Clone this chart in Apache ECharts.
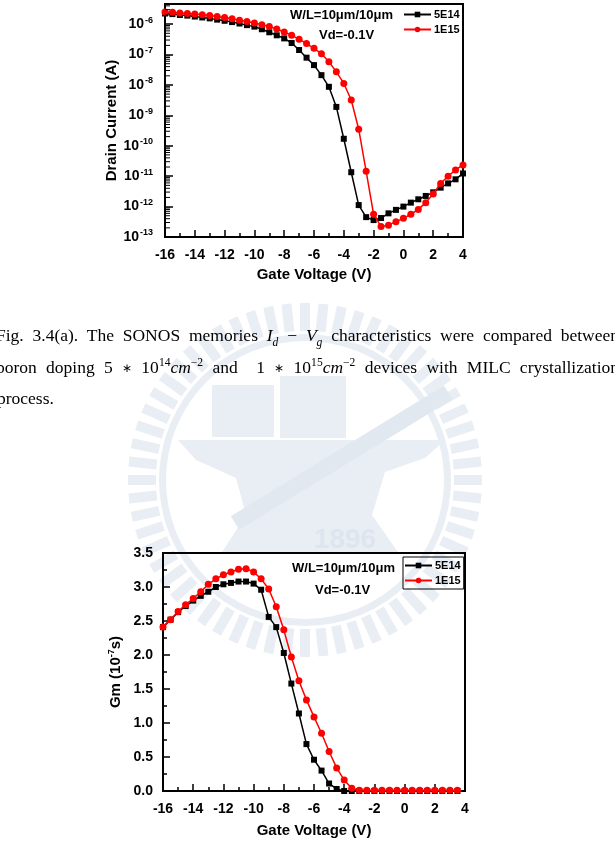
<!DOCTYPE html>
<html><head><meta charset="utf-8">
<script src="https://cdn.jsdelivr.net/npm/echarts@6/dist/echarts.min.js"></script>
<style>
html,body{margin:0;padding:0;background:#fff;overflow:hidden;}
#c{position:absolute;left:0;top:0;width:615px;height:866px;}
.cap{position:absolute;left:-4px;width:623px;font-family:"Liberation Serif","Times New Roman",serif;font-size:17.5px;line-height:20px;color:#000;}
.j{text-align:justify;text-align-last:justify;}
.m{font-style:italic;}
.ast{font-size:70%;position:relative;top:-1px;}
sub,sup{font-size:66%;line-height:0;}
</style></head><body>
<div id="c"></div>
<div class="cap j" style="top:325px">Fig. 3.4(a). The SONOS memories <span class="m">I<sub>d</sub></span> − <span class="m">V<sub>g</sub></span> characteristics were compared between</div>
<div class="cap j" style="top:357px">boron doping 5 <span class="ast">∗</span> 10<sup>14</sup><span class="m">cm</span><sup>−2</sup> and &nbsp;1 <span class="ast">∗</span> 10<sup>15</sup><span class="m">cm</span><sup>−2</sup> devices with MILC crystallization</div>
<div class="cap" style="top:388px;left:-3px">process.</div>
<script>
// ---------- data ----------
const vgIdVg = [-16,-15.5,-15,-14.5,-14,-13.5,-13,-12.5,-12,-11.5,-11,-10.5,-10,-9.5,-9,-8.5,-8,-7.5,-7,-6.5,-6,-5.5,-5,-4.5,-4,-3.5,-3,-2.5,-2,-1.5,-1,-0.5,0,0.5,1,1.5,2,2.5,3,3.5,4];
const id5E14 = [2.24e-6,2.14e-6,2.0e-6,1.91e-6,1.78e-6,1.66e-6,1.55e-6,1.41e-6,1.29e-6,1.17e-6,1.05e-6,9.3e-7,8.3e-7,6.8e-7,5.4e-7,4.3e-7,3.4e-7,2.4e-7,1.41e-7,7.9e-8,4.5e-8,2.1e-8,8.7e-9,1.9e-9,1.7e-10,1.35e-11,1.12e-12,4.5e-13,3.6e-13,4.2e-13,6.0e-13,7.8e-13,1.0e-12,1.35e-12,1.74e-12,2.24e-12,2.95e-12,4.2e-12,5.8e-12,7.9e-12,1.23e-11];
const id1E15 = [2.5e-6,2.45e-6,2.34e-6,2.24e-6,2.14e-6,2.04e-6,1.91e-6,1.78e-6,1.66e-6,1.51e-6,1.35e-6,1.23e-6,1.1e-6,9.5e-7,8.3e-7,6.9e-7,5.5e-7,4.3e-7,3.2e-7,2.3e-7,1.6e-7,1.07e-7,5.8e-8,2.7e-8,1.12e-8,3.2e-9,3.5e-10,1.45e-11,5.6e-13,2.2e-13,2.45e-13,3.2e-13,4.1e-13,5.6e-13,8.1e-13,1.35e-12,2.6e-12,5.8e-12,1.0e-11,1.6e-11,2.35e-11];

const vgGm = [-16,-15.5,-15,-14.5,-14,-13.5,-13,-12.5,-12,-11.5,-11,-10.5,-10,-9.5,-9,-8.5,-8,-7.5,-7,-6.5,-6,-5.5,-5,-4.5,-4,-3.5,-3,-2.5,-2,-1.5,-1,-0.5,0,0.5,1,1.5,2,2.5,3,3.5];
const gm5E14 = [2.41,2.52,2.63,2.72,2.80,2.87,2.93,3.00,3.04,3.06,3.08,3.08,3.05,2.96,2.56,2.41,2.03,1.58,1.14,0.69,0.46,0.30,0.11,0.03,0,0,0,0,0,0,0,0,0,0,0,0,0,0,0,0];
const gm1E15 = [2.41,2.52,2.64,2.74,2.83,2.93,3.04,3.12,3.18,3.22,3.26,3.27,3.22,3.12,2.97,2.71,2.37,1.97,1.62,1.34,1.09,0.85,0.58,0.34,0.16,0.04,0.01,0.01,0.01,0.01,0.01,0.01,0.01,0.01,0.01,0.01,0.01,0.01,0.01,0.01];

const seriesNames = ['5E14','1E15'];
const xTicks = {min:-16, max:4, step:2};
const gmTicks = {min:0, max:3.5, step:0.5};
const idRange = {min:1e-13, max:4.6e-6};
const noteWL = 'W/L=10\u03bcm/10\u03bcm';
const noteVd = 'Vd=-0.1V';

// ---------- chart ----------
const FF = '"Liberation Sans", Arial, sans-serif';
const chart = echarts.init(document.getElementById('c'), null, {renderer:'canvas'});

function pairs(xs, ys){ return xs.map((x,i)=>[x, ys[i]]); }

const axisLineStyle = {color:'#000', width:2};
const tickStyle = {color:'#000', width:1.5};
const G1 = {left:165, top:4, width:298, height:233};
const G2 = {left:163, top:553, width:302, height:238};

function xAxisCfg(gi, gap, margin){
  return {
    gridIndex: gi, type:'value', min:xTicks.min, max:xTicks.max, interval:xTicks.step,
    axisLine:{onZero:false, lineStyle:axisLineStyle}, splitLine:{show:false},
    axisTick:{inside:true, length:7, lineStyle:tickStyle},
    minorTick:{show:true, splitNumber:2, length:4, lineStyle:tickStyle},
    axisLabel:{color:'#000', fontWeight:'bold', fontSize:14, fontFamily:FF, margin:margin},
    name:'Gate Voltage (V)', nameLocation:'middle', nameGap:gap,
    nameTextStyle:{color:'#000', fontWeight:'bold', fontSize:15, fontFamily:FF}
  };
}

// log minor tick positions (2..9 x 10^n) for the left axis decoration
const logMinor = [];
for (let e=-13; e<=-6; e++) for (let k=2; k<=9; k++) { const v = k*Math.pow(10,e); if (v < idRange.max) logMinor.push(v); }

// watermark (decorative)
const wm = [];
const WC = '#e9eef5', cx = 305, cy = 480;
for (let i=0; i<60; i++) {
  wm.push({type:'rect', x:cx, y:cy, rotation: i*2*Math.PI/60, silent:true, z:-10,
    shape:{x:-5, y:-177, width:10, height:28}, style:{fill:WC}});
}
wm.push({type:'ring', silent:true, z:-10, shape:{cx:cx, cy:cy, r:146, r0:139}, style:{fill:WC}});
wm.push({type:'polygon', silent:true, z:-10, shape:{points:[[178,440],[445,440],[425,458],[385,472],[372,515],[398,552],[222,552],[246,515],[236,478],[196,460]]}, style:{fill:WC}});
wm.push({type:'rect', silent:true, z:-10, shape:{x:212, y:385, width:62, height:52}, style:{fill:WC}});
wm.push({type:'rect', silent:true, z:-10, shape:{x:280, y:376, width:66, height:62}, style:{fill:WC}});
wm.push({type:'rect', silent:true, z:-10, x:235, y:523, rotation:0.55, shape:{x:0, y:-8, width:250, height:16}, style:{fill:'#e2e8f0'}});
wm.push({type:'text', silent:true, z:-9, x:345, y:540, style:{text:'1896', font:'bold 28px "Liberation Sans"', fill:'#dfe5ee', align:'center', verticalAlign:'middle'}});

const notes = [
  {type:'text', left:290, top:9, z:100, style:{text:noteWL, font:'bold 13px '+FF, fill:'#000'}},
  {type:'text', left:319, top:29, z:100, style:{text:noteVd, font:'bold 13px '+FF, fill:'#000'}},
  {type:'text', left:292, top:562, z:100, style:{text:noteWL, font:'bold 13px '+FF, fill:'#000'}},
  {type:'text', left:315, top:584, z:100, style:{text:noteVd, font:'bold 13px '+FF, fill:'#000'}}
];

const legendBase = {
  orient:'vertical', itemWidth:27, itemHeight:7, itemGap:2, selectedMode:false,
  textStyle:{color:'#000', fontWeight:'bold', fontSize:11, fontFamily:FF, lineHeight:13, padding:[0,0,0,-2]},
  data: seriesNames
};

const option = {
  animation:false,
  backgroundColor:'transparent',
  graphic: wm.concat(notes),
  grid:[
    Object.assign({show:true, borderColor:'#000', borderWidth:2, backgroundColor:'transparent'}, G1),
    Object.assign({show:true, borderColor:'#000', borderWidth:2, backgroundColor:'transparent'}, G2)
  ],
  legend:[
    Object.assign({}, legendBase, {left:403, top:8, padding:0}),
    Object.assign({}, legendBase, {left:403, top:557, padding:[2,3,2,1], borderColor:'#000', borderWidth:1})
  ],
  xAxis:[ xAxisCfg(0, 30, 11), xAxisCfg(1, 32, 11) ],
  yAxis:[
    {gridIndex:0, type:'log', logBase:10, min:idRange.min, max:idRange.max, interval:1, position:'left',
     axisLine:{onZero:false, lineStyle:axisLineStyle}, splitLine:{show:false},
     axisTick:{inside:true, length:8, lineStyle:tickStyle},
     axisLabel:{margin:12, color:'#000', fontFamily:FF,
       formatter:function(v){ const l=Math.log10(v), e=Math.round(l); if (Math.abs(l-e)>0.01) return ''; return '{b|10}{s|'+e+'}'; },
       rich:{b:{fontSize:14, fontWeight:'bold', fontFamily:FF, color:'#000'}, s:{fontSize:9, fontWeight:'bold', fontFamily:FF, color:'#000', verticalAlign:'top', padding:[0,0,8,1]}}},
     name:'Drain Current (A)', nameLocation:'middle', nameGap:42,
     nameTextStyle:{color:'#000', fontWeight:'bold', fontSize:15, fontFamily:FF}},
    {gridIndex:1, type:'value', min:gmTicks.min, max:gmTicks.max, interval:gmTicks.step, position:'left',
     axisLine:{onZero:false, lineStyle:axisLineStyle}, splitLine:{show:false},
     axisTick:{inside:true, length:7, lineStyle:tickStyle},
     minorTick:{show:true, splitNumber:2, length:4, lineStyle:tickStyle},
     axisLabel:{margin:10, color:'#000', fontWeight:'bold', fontSize:14, fontFamily:FF, formatter:v=>v.toFixed(1)},
     name:'{a|Gm (10}{s|-7}{a|s)}', nameLocation:'middle', nameGap:39,
     nameTextStyle:{color:'#000', fontFamily:FF,
       rich:{a:{fontSize:15, fontWeight:'bold', fontFamily:FF, color:'#000'}, s:{fontSize:9, fontWeight:'bold', fontFamily:FF, color:'#000', verticalAlign:'top', padding:[0,0,8,0]}}}}
  ],
  series:[
    // minor log ticks on the left axis, placed through the log scale
    {type:'custom', xAxisIndex:0, yAxisIndex:0, silent:true, z:5, clip:false,
     data: logMinor.map(v => [xTicks.min, v]),
     renderItem: function(params, api){
       const p = api.coord([api.value(0), api.value(1)]);
       return {type:'line', shape:{x1:p[0], y1:p[1], x2:p[0]+5, y2:p[1]}, style:{stroke:'#000', lineWidth:1}};
     }},
    {name:seriesNames[0], type:'line', xAxisIndex:0, yAxisIndex:0, data:pairs(vgIdVg, id5E14),
     symbol:'rect', symbolSize:6, itemStyle:{color:'#000'}, lineStyle:{color:'#000', width:1.5}, z:3},
    {name:seriesNames[1], type:'line', xAxisIndex:0, yAxisIndex:0, data:pairs(vgIdVg, id1E15),
     symbol:'circle', symbolSize:7, itemStyle:{color:'#ff0000'}, lineStyle:{color:'#ff0000', width:1.5}, z:4},
    {name:seriesNames[0], type:'line', xAxisIndex:1, yAxisIndex:1, data:pairs(vgGm, gm5E14),
     symbol:'rect', symbolSize:6, itemStyle:{color:'#000'}, lineStyle:{color:'#000', width:1.5}, z:3},
    {name:seriesNames[1], type:'line', xAxisIndex:1, yAxisIndex:1, data:pairs(vgGm, gm1E15),
     symbol:'circle', symbolSize:7, itemStyle:{color:'#ff0000'}, lineStyle:{color:'#ff0000', width:1.5}, z:4}
  ]
};
chart.setOption(option);
</script>
</body></html>
